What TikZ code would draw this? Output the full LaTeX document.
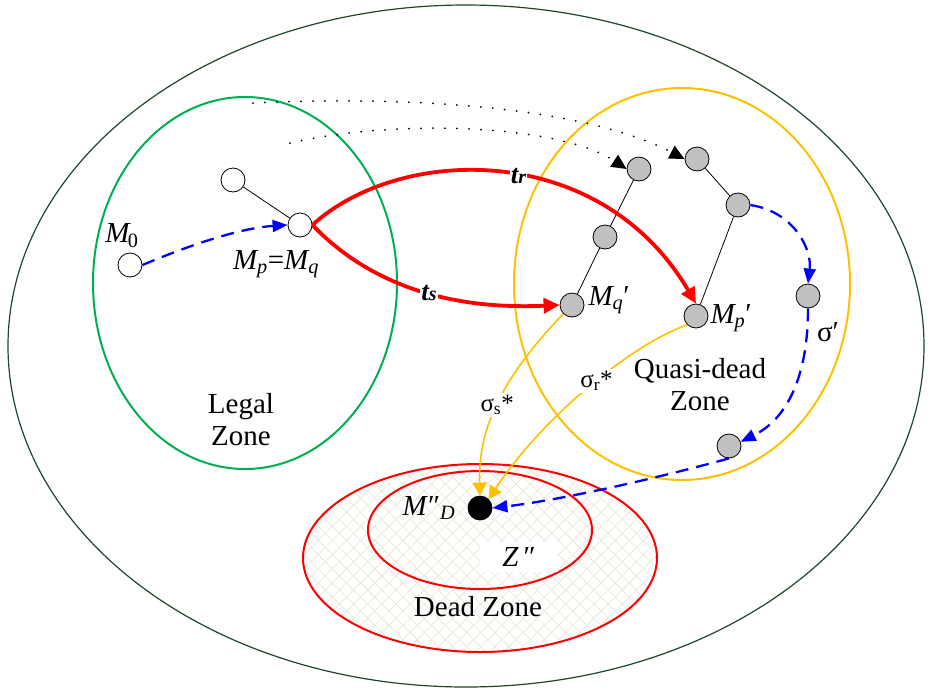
\documentclass[tikz,border=0pt]{standalone}
\usepackage{fontspec}
\setmainfont{Liberation Serif}
\usetikzlibrary{arrows.meta,patterns.meta}
\definecolor{legal}{RGB}{0,176,80}
\definecolor{quasi}{RGB}{255,192,0}
\definecolor{outer}{RGB}{30,70,40}
\definecolor{hatch}{RGB}{232,233,218}
\definecolor{tok}{RGB}{192,192,192}
\tikzset{
  state/.style={circle,draw,line width=.8pt,minimum size=24pt,inner sep=0pt,fill=white},
  qstate/.style={state,fill=tok},
  fire/.style={red,line width=3.8pt,-{Triangle[length=16pt,width=15pt]}},
  run/.style={blue,line width=2.3pt,dash pattern=on 13pt off 8pt,-{Triangle[length=15pt,width=12pt]}},
  lead/.style={quasi,line width=1.6pt,-{Triangle[length=13pt,width=14pt]}},
  trace/.style={line width=2pt,dash pattern=on 0pt off 12pt,line cap=round,-{Triangle[length=15pt,width=14pt]}},
  big/.style={font=\fontsize{29}{32}\selectfont},
  sig/.style={font=\fontsize{25}{26}\selectfont,text=black,fill=white,inner sep=2pt},
  tname/.style={font=\fontsize{27}{27}\selectfont\bfseries\itshape,text=black,fill=white,inner sep=1pt},
}
\begin{document}
\begin{tikzpicture}[x=1pt,y=-1pt]
\useasboundingbox (0,0) rectangle (932,689);
% zones
\draw[outer,line width=1.2pt] (466,346) ellipse [x radius=458,y radius=341];
\fill[pattern={Lines[angle=45,distance=10pt,line width=.8pt]},pattern color=hatch] (480,558) ellipse [x radius=177,y radius=94];
\fill[pattern={Lines[angle=-45,distance=10pt,line width=.8pt]},pattern color=hatch] (480,558) ellipse [x radius=177,y radius=94];
\draw[red,line width=2pt] (480,558) ellipse [x radius=177,y radius=94];
\draw[red,line width=2pt] (480,530) ellipse [x radius=112,y radius=59];
\draw[legal,line width=2pt] (245,283) ellipse [x radius=152,y radius=186];
\draw[quasi,line width=2pt] (682,284) ellipse [x radius=168,y radius=196];
\node[big,align=center] (legalz) at (241,420) {Legal\\Zone};
\node[big,align=center] (quasiz) at (700,385) {Quasi-dead\\Zone};
\node[big] (deadz) at (478,607) {Dead Zone};
\node[big,fill=white,minimum width=78pt,minimum height=30pt,inner sep=0pt] (zpp) at (519,557) {\textit{Z}\,″};
% markings
\node[state] (m0) at (130,265) {};
\node[state] (w) at (233,180) {};
\node[state] (mpq) at (300,225) {};
\foreach \n/\x/\y in {g1/639/169,g2/697/159,g3/738/205,g4/808/296,g5/729/446,gm/605/237,mq/572/305,mp/696/316}
  {\node[qstate] (\n) at (\x,\y) {};}
\node[state,fill=black] (md) at (480,508) {};
\draw[line width=.8pt] (w) -- (mpq);
\draw[line width=.8pt] (g1) -- (gm) -- (mq);
\draw[line width=.8pt] (g2) -- (g3) -- (mp);
% labels
\node[big] (l0) at (122,236) {\textit{M}\kern-3pt\textsubscript{0}};
\node[big] (lpq) at (276,264) {\textit{M\textsubscript{p}}=\textit{M\textsubscript{q}}};
\node[big,anchor=west] (lq) at (585,300) {\textit{M\textsubscript{q}}′};
\node[big,anchor=west] (lp) at (707,318) {\textit{M\textsubscript{p}}′};
\node[big] (ld) at (429,508) {\textit{M}″\textsubscript{\textit{D}}};
\node[big] (lsig) at (828,332) {σ′};
% firings
\coordinate (s1) at (290,143);
\coordinate (s2) at (253,103);
\draw[trace] (s1) .. controls (400,118) and (560,125) .. (g1.west);
\draw[trace] (s2) .. controls (430,95) and (590,110) .. (g2.west);
\draw[run] (m0.east) .. controls (190,245) and (240,228) .. (mpq.west);
\draw[fire] (mpq.east) .. controls (400,145) and (600,140) .. (mp.north)
  node[pos=.54,tname] (tr) {t{\fontsize{20}{20}\selectfont r}};
\draw[fire] (mpq.east) .. controls (370,285) and (450,310) .. (mq.west)
  node[pos=.55,tname] (ts) {t{\fontsize{20}{20}\selectfont s}};
\draw[run] (g3.east) .. controls (795,212) and (812,250) .. (g4.north);
\draw[run] (g4.south) .. controls (808,380) and (785,420) .. (g5.20);
\draw[run] (g5.south) .. controls (650,480) and (560,500) .. (md.east);
\draw[lead] (mq.225) .. controls (500,380) and (478,430) .. (md.north)
  node[pos=.5,sig] (ss) {σ\textsubscript{s}*};
\draw[lead] (mp.225) .. controls (630,345) and (540,420) .. (md.north east)
  node[pos=.45,sig] (sr) {σ\textsubscript{r}*};
\end{tikzpicture}
\end{document}
